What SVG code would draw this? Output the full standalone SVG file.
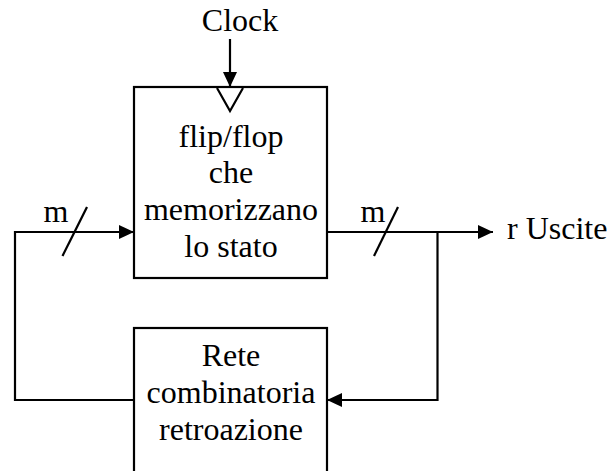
<svg xmlns="http://www.w3.org/2000/svg" width="612" height="471" viewBox="0 0 612 471">
<style>
text{font-family:'Liberation Serif','DejaVu Serif','Times New Roman',serif;font-size:32px;fill:#000}
.c{text-anchor:middle}
.box{fill:#fff;stroke:#000;stroke-width:2.2}
.ln{fill:none;stroke:#000;stroke-width:2.2}
</style>
<defs>
<marker id="ah" markerUnits="userSpaceOnUse" markerWidth="16" markerHeight="14" refX="15" refY="7" orient="auto">
<path d="M0,0 L15,7 L0,14 Z" fill="#000"/>
</marker>
</defs>
<g id="connectors">
<line class="ln" x1="230" y1="39" x2="230" y2="87" marker-end="url(#ah)"/>
<polyline class="ln" points="134,400 15,400 15,232 134,232" marker-end="url(#ah)"/>
<polyline class="ln" points="327,232 493,232" marker-end="url(#ah)"/>
<polyline class="ln" points="437.5,232 437.5,400 327,400" marker-end="url(#ah)"/>
<line class="ln" x1="62.5" y1="256" x2="87" y2="207"/>
<line class="ln" x1="374" y1="256" x2="398" y2="207"/>
<text x="56" y="222" class="c" font-family="Liberation Serif">m</text>
<text x="373" y="222" class="c" font-family="Liberation Serif">m</text>
<text x="507" y="239" font-family="Liberation Serif">r Uscite</text>
</g>
<g id="clock">
<text x="240" y="31" class="c" font-family="Liberation Serif">Clock</text>
</g>
<g id="flipflop">
<rect class="box" x="134" y="87" width="193" height="191"/>
<polyline class="ln" points="217,88 230,111 243,88"/>
<text x="231" y="147" class="c">flip/flop</text>
<text x="231" y="183" class="c">che</text>
<text x="231" y="220" class="c">memorizzano</text>
<text x="231" y="257" class="c">lo stato</text>
</g>
<g id="rete">
<rect class="box" x="134" y="328" width="193" height="150"/>
<text x="231" y="366" class="c">Rete</text>
<text x="231" y="403" class="c">combinatoria</text>
<text x="231" y="440" class="c">retroazione</text>
</g>
</svg>
